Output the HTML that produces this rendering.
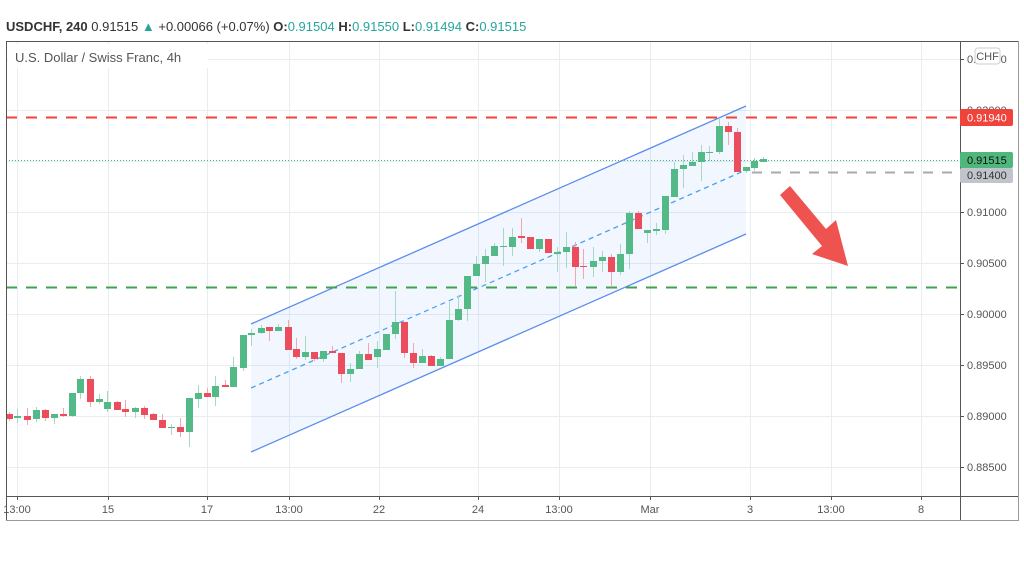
<!DOCTYPE html>
<html><head><meta charset="utf-8"><style>
body{margin:0;background:#fff;width:1024px;height:559px;overflow:hidden;font-family:"Liberation Sans",sans-serif}
</style></head><body>
<svg width="1024" height="559" xmlns="http://www.w3.org/2000/svg" font-family="Liberation Sans, sans-serif">
<text x="6" y="31" font-size="13" fill="#333"><tspan font-weight="bold">USDCHF, 240</tspan> 0.91515 <tspan fill="#26a69a">▲</tspan> +0.00066 (+0.07%) <tspan font-weight="bold">O:</tspan><tspan fill="#26a69a">0.91504</tspan> <tspan font-weight="bold">H:</tspan><tspan fill="#26a69a">0.91550</tspan> <tspan font-weight="bold">L:</tspan><tspan fill="#26a69a">0.91494</tspan> <tspan font-weight="bold">C:</tspan><tspan fill="#26a69a">0.91515</tspan></text>
<g stroke="#e6eef4" stroke-width="1">
<line x1="6" x2="960" y1="59.5" y2="59.5"/><line x1="6" x2="960" y1="110.5" y2="110.5"/><line x1="6" x2="960" y1="161.5" y2="161.5"/><line x1="6" x2="960" y1="212.5" y2="212.5"/><line x1="6" x2="960" y1="263.5" y2="263.5"/><line x1="6" x2="960" y1="314.5" y2="314.5"/><line x1="6" x2="960" y1="365.5" y2="365.5"/><line x1="6" x2="960" y1="416.5" y2="416.5"/><line x1="6" x2="960" y1="467.5" y2="467.5"/>
<line x1="17.5" x2="17.5" y1="42" y2="496"/><line x1="108.5" x2="108.5" y1="42" y2="496"/><line x1="207.5" x2="207.5" y1="42" y2="496"/><line x1="289.5" x2="289.5" y1="42" y2="496"/><line x1="379.5" x2="379.5" y1="42" y2="496"/><line x1="478.5" x2="478.5" y1="42" y2="496"/><line x1="559.5" x2="559.5" y1="42" y2="496"/><line x1="650.5" x2="650.5" y1="42" y2="496"/><line x1="750.5" x2="750.5" y1="42" y2="496"/><line x1="831.5" x2="831.5" y1="42" y2="496"/><line x1="921.5" x2="921.5" y1="42" y2="496"/>
</g>
<rect x="8" y="44" width="200" height="24" fill="#fff"/>
<text x="15" y="62" font-size="13" fill="#555">U.S. Dollar / Swiss Franc, 4h</text>
<polygon points="251,324 746,106 746,234 251,452" fill="#2962ff" fill-opacity="0.06"/>
<line x1="251" y1="324" x2="746" y2="106" stroke="#5b8def" stroke-width="1.3"/>
<line x1="251" y1="452" x2="746" y2="234" stroke="#5b8def" stroke-width="1.3"/>
<line x1="251" y1="388" x2="746" y2="170" stroke="#4aa3f0" stroke-width="1.3" stroke-dasharray="5,4"/>
<line x1="6" x2="960" y1="117.5" y2="117.5" stroke="#f0433a" stroke-width="2" stroke-dasharray="11,9"/>
<line x1="6" x2="960" y1="287.5" y2="287.5" stroke="#3fa34d" stroke-width="2" stroke-dasharray="11,9"/>
<line x1="6" x2="960" y1="160.5" y2="160.5" stroke="#3fb873" stroke-width="1" stroke-dasharray="1,2"/>
<line x1="752" x2="960" y1="172.5" y2="172.5" stroke="#aaa" stroke-width="2" stroke-dasharray="10,9"/>
<g id="c"></g>
<polygon points="780,195 790,186 826,229 836,220 848,266 812,254 822,246" fill="#ef5350"/>
<line x1="6.5" y1="41" x2="6.5" y2="521" stroke="#555"/>
<line x1="6" y1="41.5" x2="1018" y2="41.5" stroke="#555"/>
<line x1="960.5" y1="41" x2="960.5" y2="521" stroke="#555"/>
<line x1="1018.5" y1="41" x2="1018.5" y2="521" stroke="#999"/>
<line x1="6" y1="496.5" x2="1018" y2="496.5" stroke="#555"/>
<line x1="6" y1="520.5" x2="1018" y2="520.5" stroke="#999"/>
<g font-size="11" fill="#555">
<text x="967" y="63">0.92500</text><text x="967" y="114">0.92000</text><text x="967" y="216">0.91000</text><text x="967" y="267">0.90500</text><text x="967" y="318">0.90000</text><text x="967" y="369">0.89500</text><text x="967" y="420">0.89000</text><text x="967" y="471">0.88500</text>
</g>
<g stroke="#555"><line x1="960" x2="964" y1="59.5" y2="59.5"/><line x1="960" x2="964" y1="110.5" y2="110.5"/><line x1="960" x2="964" y1="212.5" y2="212.5"/><line x1="960" x2="964" y1="263.5" y2="263.5"/><line x1="960" x2="964" y1="314.5" y2="314.5"/><line x1="960" x2="964" y1="365.5" y2="365.5"/><line x1="960" x2="964" y1="416.5" y2="416.5"/><line x1="960" x2="964" y1="467.5" y2="467.5"/></g>
<rect x="975" y="48" width="25" height="16" rx="3" fill="#fff" stroke="#ccc"/>
<text x="987.5" y="60" font-size="11" fill="#555" text-anchor="middle">CHF</text>
<rect x="960" y="109" width="53" height="17" rx="2" fill="#f0433a"/><text x="967" y="121.5" font-size="11" fill="#fff">0.91940</text>
<rect x="960" y="152" width="53" height="16" rx="2" fill="#4fb67c"/><text x="967" y="164" font-size="11" fill="#111">0.91515</text>
<rect x="960" y="168" width="53" height="15" rx="2" fill="#c2c4cb"/><text x="967" y="179" font-size="11" fill="#333">0.91400</text>
<g font-size="11" fill="#555" text-anchor="middle">
<text x="17" y="513">13:00</text><text x="108" y="513">15</text><text x="207" y="513">17</text><text x="289" y="513">13:00</text><text x="379" y="513">22</text><text x="478" y="513">24</text><text x="559" y="513">13:00</text><text x="650" y="513">Mar</text><text x="750" y="513">3</text><text x="831" y="513">13:00</text><text x="921" y="513">8</text>
</g>
<g stroke="#555"><line x1="17.5" x2="17.5" y1="496" y2="500"/><line x1="108.5" x2="108.5" y1="496" y2="500"/><line x1="207.5" x2="207.5" y1="496" y2="500"/><line x1="289.5" x2="289.5" y1="496" y2="500"/><line x1="379.5" x2="379.5" y1="496" y2="500"/><line x1="478.5" x2="478.5" y1="496" y2="500"/><line x1="559.5" x2="559.5" y1="496" y2="500"/><line x1="650.5" x2="650.5" y1="496" y2="500"/><line x1="750.5" x2="750.5" y1="496" y2="500"/><line x1="831.5" x2="831.5" y1="496" y2="500"/><line x1="921.5" x2="921.5" y1="496" y2="500"/></g>
</svg>
<script>
// x, dir(g/r), bodyTop, bodyBot, wickTop, wickBot
var d=[
[9,'r',414,419,412,421],[17,'g',416,418,409,423],[27,'r',416,420,408,425],[36,'g',410,419,407,422],[45,'r',410,418,409,421],[54,'g',414,418,414,424],[63,'r',414,416,408,417],[72,'g',393,416,393,417],
[80,'g',379,393,376,399],[90,'r',379,402,376,407],[99,'g',399,402,394,404],[107,'g',402,409,391,412],[117,'r',402,410,401,410],[125,'r',409,412,400,417],[135,'g',408,412,407,418],[144,'r',408,415,406,419],
[153,'r',414,420,413,420],[162,'r',420,428,414,428],[171,'g',427,428,424,435],[180,'r',427,432,418,437],[189,'g',398,432,398,447],[198,'g',393,399,385,408],[207,'r',393,397,388,397],[215,'g',386,397,376,406],
[225,'r',385,387,380,387],[233,'g',367,387,357,387],[243,'g',335,368,335,371],[251,'g',333,335,329,346],[261,'g',328,333,325,334],
[269,'r',327,331,327,341],[278,'g',327,331,324,331],[288,'r',327,350,320,350],[296,'r',349,357,338,359],[305,'g',352,357,336,360],[314,'r',352,359,352,361],[323,'g',351,359,351,362],[332,'r',351,353,346,353],
[341,'r',353,374,353,383],[350,'g',369,374,363,382],[359,'g',354,369,351,369],[368,'r',354,360,343,360],[377,'g',349,357,341,368],[386,'g',334,350,334,350],[395,'g',322,334,291,339],[404,'r',322,353,322,358],
[413,'r',353,363,343,368],[422,'g',356,363,349,363],[431,'r',356,366,355,366],[440,'g',359,366,357,366],[449,'g',320,359,302,359],[458,'g',309,320,295,321],[467,'g',276,309,276,321],[476,'g',264,276,256,276],
[485,'g',256,264,249,282],[494,'g',246,256,243,256],[503,'g',246,247,228,266],[512,'g',237,247,228,256],[521,'r',236,238,218,243],[530,'r',237,249,237,249],[539,'g',239,249,239,252],[548,'r',239,253,239,253],
[557,'g',252,254,247,272],[566,'g',247,252,232,268],[575,'r',247,267,242,286],[583,'r',266,267,249,279],[593,'g',261,267,247,277],[602,'g',257,261,251,272],[611,'r',257,272,254,287],[620,'g',254,272,244,275],
[629,'g',213,254,211,269],[638,'r',213,229,211,229],[647,'g',230,233,230,243],[656,'g',229,231,223,235],[665,'g',196,230,196,234],[674,'g',169,197,162,197],[683,'g',165,169,155,188],[692,'g',162,166,152,166],
[701,'g',152,162,145,181],[709,'g',152,153,146,161],[719,'g',126,152,118,154],[728,'r',126,132,122,145],[737,'r',132,172,128,172],[746,'g',167,171,167,173],[754,'g',161,168,158,171],[763,'g',159,162,157,162]];
var s='',ns='http://www.w3.org/2000/svg';
d.forEach(function(c){var col=c[1]=='g'?'#53b987':'#eb4d5c';var wc=c[1]=='g'?'#a9d8c1':'#f2a6ae';
s+='<line x1="'+c[0]+'.5" x2="'+c[0]+'.5" y1="'+c[4]+'" y2="'+c[5]+'" stroke="'+wc+'" stroke-width="1"/>';
s+='<rect x="'+(c[0]-3)+'" y="'+c[2]+'" width="7" height="'+Math.max(1,c[3]-c[2])+'" fill="'+col+'"/>';});
document.getElementById('c').innerHTML=s;
</script>
</body></html>
